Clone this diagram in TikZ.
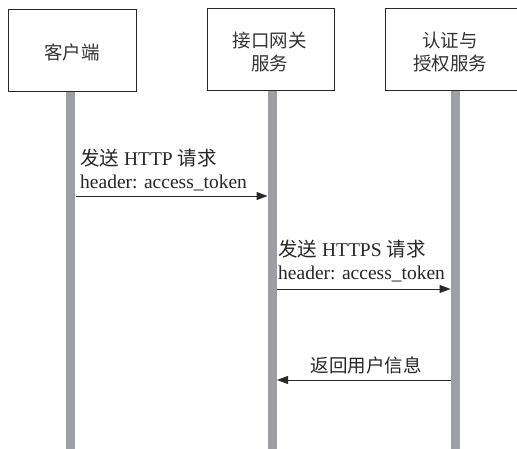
\documentclass[tikz,border=0pt]{standalone}
\usepackage{fontspec}
\setmainfont{Liberation Serif}
\newfontfamily\cjk{Noto Sans CJK SC}
\usetikzlibrary{arrows.meta}
\definecolor{lifegray}{RGB}{158,159,163}
\definecolor{edgegray}{RGB}{40,40,40}
\tikzset{
  box/.style={draw=edgegray, line width=1pt, minimum height=82pt, inner sep=0pt, fill=white},
  boxtext/.style={font=\fontsize{18.5}{22.5}\selectfont\cjk, align=center, inner sep=0pt, text=black!80},
  lifeline/.style={draw=lifegray, line width=9pt},
  msg/.style={draw=edgegray, line width=1pt, -{Triangle[length=11pt,width=8pt]}},
  label/.style={font=\fontsize{19.5}{23}\selectfont, inner sep=0pt, anchor=base west, text=black!85},
  cjklabel/.style={font=\fontsize{18.5}{23}\selectfont\cjk},
}
\begin{document}
\begin{tikzpicture}[x=1pt,y=-1pt]
\useasboundingbox (0,0) rectangle (517,448);
\clip (0,0) rectangle (517,448);
% lifelines
\coordinate (l1top) at (70.5,91);
\coordinate (l1bot) at (70.5,449);
\coordinate (l2top) at (272,91);
\coordinate (l2bot) at (272,449);
\coordinate (l3top) at (455,91);
\coordinate (l3bot) at (455,449);
\draw[lifeline] (l1top) -- (l1bot);
\draw[lifeline] (l2top) -- (l2bot);
\draw[lifeline] (l3top) -- (l3bot);
% boxes
\node[box, minimum width=128pt] (b1) at (72,50) {};
\node[boxtext] (t1) at (72,52) {客户端};
\node[box, minimum width=127pt] (b2) at (270.5,49.5) {};
\node[boxtext] (t2) at (269.5,52) {接口网关\\服务};
\node[box, minimum width=160pt] (b3) at (465,49) {};
\node[boxtext] (t3) at (450,52) {认证与\\授权服务};
% message 1
\coordinate (m1s) at (75.5,196);
\coordinate (m1e) at (267.5,196);
\draw[msg] (m1s) -- (m1e);
\node[label] (m1a) at (80,165) {{\cjk 发送} HTTP {\cjk 请求}};
\node[label] (m1b) at (80,188) {header: access\_token};
% message 2
\coordinate (m2s) at (277,289);
\coordinate (m2e) at (450.5,289);
\draw[msg] (m2s) -- (m2e);
\node[label] (m2a) at (278,256) {{\cjk 发送} HTTPS {\cjk 请求}};
\node[label] (m2b) at (278,279) {header: access\_token};
% message 3
\coordinate (m3s) at (450.5,380);
\coordinate (m3e) at (277,380);
\draw[msg] (m3s) -- (m3e);
\node[label, cjklabel, anchor=base] (m3a) at (366,372) {返回用户信息};
\end{tikzpicture}
\end{document}
